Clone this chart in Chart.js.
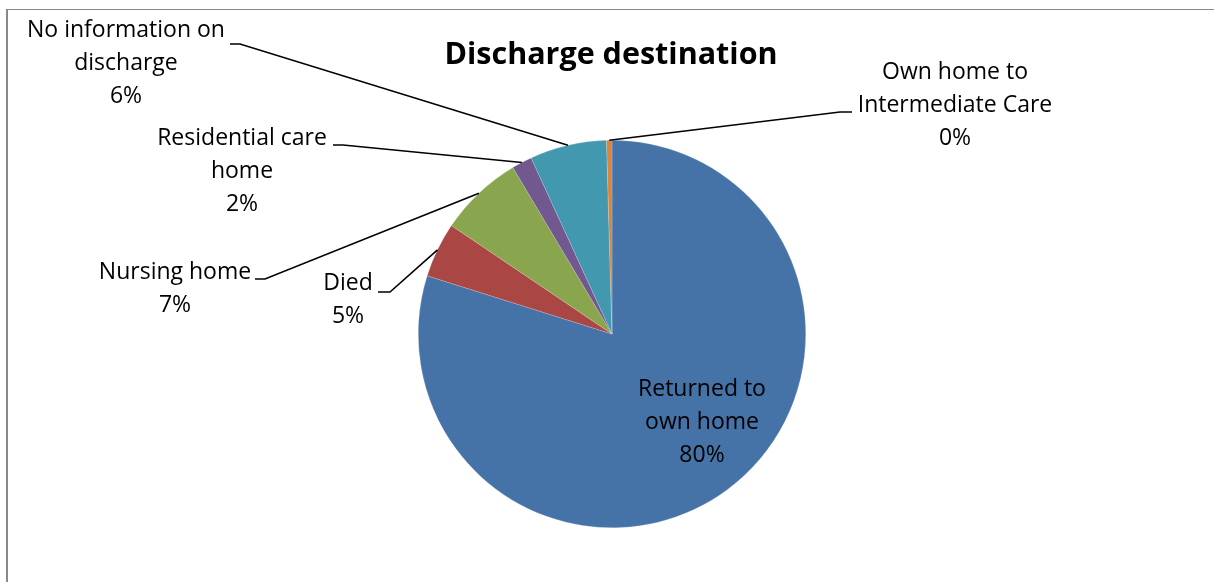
<!DOCTYPE html>
<html>
<head>
<meta charset="utf-8">
<script src="https://cdn.jsdelivr.net/npm/chart.js@4.4.1/dist/chart.umd.min.js"></script>
<style>
  html, body { margin: 0; padding: 0; background: #ffffff; }
  #wrap { width: 1214px; height: 582px; position: relative; }
</style>
</head>
<body>
<div id="wrap"><canvas id="c" width="1214" height="582"></canvas></div>
<script>
// ---- data ----
const categories = ["Returned to own home", "Died", "Nursing home", "Residential care home", "No information on discharge", "Own home to Intermediate Care"];
const values = [79.85, 4.6, 7.0, 1.7, 6.4, 0.45];
const labelLines = [["Returned to", "own home"], ["Died"], ["Nursing home"], ["Residential care", "home"], ["No information on", "discharge"], ["Own home to", "Intermediate Care"]];
const colors = ["#4572A7", "#AA4643", "#89A54E", "#71588F", "#4198AF", "#DB843D"];
const chartTitle = "Discharge destination";

// ---- label layout (positions of label text and leader elbows) ----
const labelLayout = [
  { cx: 702, cy: 389, inside: true },
  { cx: 348, cy: 283, h0: 378, h1: 390, hy: 292 },
  { cx: 175, cy: 272, h0: 255, h1: 265, hy: 279 },
  { cx: 242, cy: 138, h0: 333, h1: 343, hy: 145 },
  { cx: 126, cy: 30,  h0: 230, h1: 240, hy: 44 },
  { cx: 955, cy: 72,  h0: 852, h1: 840, hy: 112 }
];
const LINE_H = 33;
const LABEL_FONT = "23px 'Open Sans', 'DejaVu Sans', sans-serif";
const TITLE_FONT = "bold 30.5px 'Open Sans', 'DejaVu Sans', sans-serif";

const total = values.reduce((a, b) => a + b, 0);

const decorPlugin = {
  id: 'decor',
  beforeDraw(chart) {
    const ctx = chart.ctx;
    ctx.save();
    ctx.fillStyle = '#ffffff';
    ctx.fillRect(0, 0, chart.width, chart.height);
    ctx.fillStyle = '#898989';
    ctx.fillRect(6, 9, 2, chart.height - 9);
    ctx.fillRect(6, 9, chart.width - 6, 1);
    ctx.restore();
  },
  afterDraw(chart) {
    const ctx = chart.ctx;
    const meta = chart.getDatasetMeta(0);
    ctx.save();
    // title
    ctx.fillStyle = '#000000';
    ctx.font = TITLE_FONT;
    ctx.textAlign = 'center';
    ctx.textBaseline = 'middle';
    ctx.fillText(chartTitle, 611, 55);

    ctx.font = LABEL_FONT;
    meta.data.forEach((arc, i) => {
      const L = labelLayout[i];
      const pct = Math.round(values[i] / total * 100) + '%';
      const lines = labelLines[i].concat([pct]);
      ctx.fillStyle = '#000000';
      lines.forEach((t, k) => ctx.fillText(t, L.cx, L.cy + k * LINE_H));
      if (!L.inside) {
        const p = arc.getProps(['x', 'y', 'startAngle', 'endAngle', 'outerRadius'], true);
        const mid = (p.startAngle + p.endAngle) / 2;
        const ex = p.x + Math.cos(mid) * p.outerRadius;
        const ey = p.y + Math.sin(mid) * p.outerRadius;
        ctx.strokeStyle = '#000000';
        ctx.lineWidth = 1.6;
        ctx.beginPath();
        ctx.moveTo(L.h0, L.hy);
        ctx.lineTo(L.h1, L.hy);
        ctx.lineTo(ex, ey);
        ctx.stroke();
      }
    });
    ctx.restore();
  }
};

new Chart(document.getElementById('c'), {
  type: 'pie',
  data: {
    labels: categories,
    datasets: [{
      data: values,
      backgroundColor: colors,
      borderColor: 'rgba(255,255,255,0.35)',
      borderWidth: 0.5
    }]
  },
  options: {
    responsive: false,
    animation: false,
    layout: { padding: { top: 140, bottom: 54, left: 10, right: 0 } },
    plugins: {
      legend: { display: false },
      title: { display: false },
      tooltip: { enabled: false }
    }
  },
  plugins: [decorPlugin]
});
</script>
</body>
</html>
